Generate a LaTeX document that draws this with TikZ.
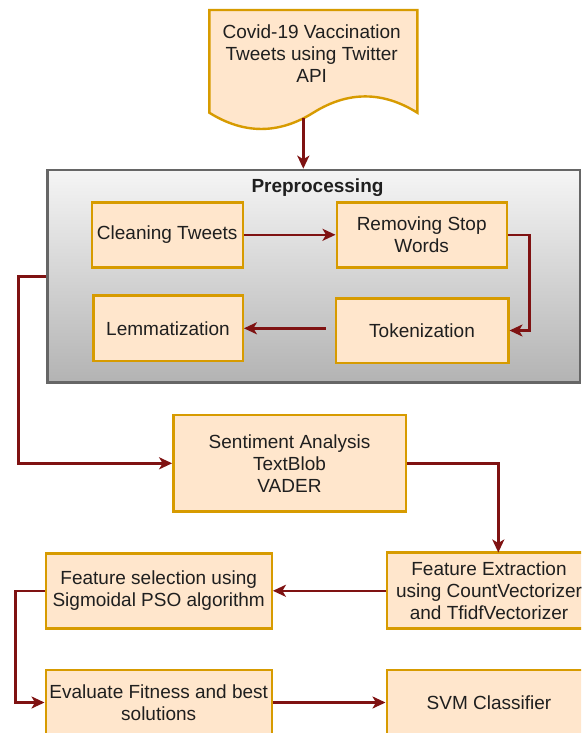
\documentclass[tikz,border=0pt]{standalone}
\usepackage{fontspec}
\setmainfont{Liberation Sans}
\usetikzlibrary{arrows.meta,calc}
\definecolor{boxfill}{HTML}{FFE6CC}
\definecolor{boxline}{HTML}{D79B00}
\definecolor{arr}{HTML}{7F1212}
\definecolor{txt}{HTML}{1F1F1F}
\definecolor{contline}{HTML}{666666}
\definecolor{conttop}{HTML}{F5F5F5}
\definecolor{contbot}{HTML}{B3B3B3}
\begin{document}
\begin{tikzpicture}[x=1pt,y=-1pt,
  lbl/.style={text=txt, align=center, font=\fontsize{19}{22}\selectfont, inner sep=0pt},
  box/.style={lbl, draw=boxline, fill=boxfill, line width=2.4pt},
  conn/.style={draw=arr, line width=2.5pt, -{Stealth[length=13pt,width=12pt,inset=3.5pt]}},
]
\useasboundingbox (0,0) rectangle (581,733);
\clip (0,0) rectangle (581,733);
\fill[white] (0,0) rectangle (581,733);

% source document shape
\draw[draw=boxline, fill=boxfill, line width=2.4pt]
  (209.3,10) -- (417.3,10) -- (417.3,112.7)
  .. controls (382.6,91.0) and (348.0,91.0) .. (313.3,112.7)
  .. controls (278.6,134.4) and (244.0,134.4) .. (209.3,112.7) -- cycle;
\node[lbl] (doc) at (311.7,53.3) {Covid-19 Vaccination\\Tweets using Twitter\\API};
\coordinate (docout) at (303.3,118);

% preprocessing container
\node[draw=contline, line width=2.6pt, top color=conttop, bottom color=contbot,
      minimum width=532.3pt, minimum height=212.7pt, inner sep=0pt] (prep) at (313.85,276.35) {};
\node[lbl, font=\bfseries\fontsize{19}{22}\selectfont] (preptitle) at (317.5,188) {Preprocessing};

\node[box, minimum width=151pt, minimum height=65pt] (clean) at (167.2,234.8) {Cleaning Tweets};
\node[box, minimum width=170pt, minimum height=65pt] (remove) at (421.7,234.8) {Removing Stop\\Words};
\node[box, minimum width=149.4pt, minimum height=65.3pt] (lemma) at (168,328.3) {Lemmatization};
\node[box, minimum width=172.6pt, minimum height=64.4pt] (token) at (422,330.5) {Tokenization};

\node[box, minimum width=232.4pt, minimum height=96.7pt] (senti) at (289.5,463.3) {Sentiment Analysis\\TextBlob\\VADER};
\node[box, minimum width=204.6pt, minimum height=75.8pt] (featx) at (489,590.4) {Feature Extraction\\using CountVectorizer\\and TfidfVectorizer};
\node[box, minimum width=226pt, minimum height=75pt] (fsel) at (158.7,590.8) {Feature selection using\\Sigmoidal PSO algorithm};
\node[box, minimum width=226pt, minimum height=65pt] (evalb) at (158.7,702.5) {Evaluate Fitness and best\\solutions};
\node[box, minimum width=204.6pt, minimum height=65pt] (svm) at (489,702.5) {SVM Classifier};
\coordinate (fxin) at (498.3,552.5);

% connectors
\draw[conn] (docout) -- (docout |- prep.north);
\draw[conn] (clean.east) -- (clean.east -| remove.west);
\draw[conn] (remove.east) -- ++(21.6,0) |- (token.east);
\draw[conn, shorten <=9pt] (token.west |- lemma.east) -- (lemma.east);
\draw[conn] (prep.west) -- (18.3,276.35) |- (senti.west);
\draw[conn] (senti.east) -| (fxin);
\draw[conn] (featx.west |- fsel.east) -- (fsel.east);
\draw[conn] (fsel.west) -- ++(-29,0) |- (evalb.west);
\draw[conn] (evalb.east) -- (svm.west);
\end{tikzpicture}
\end{document}
